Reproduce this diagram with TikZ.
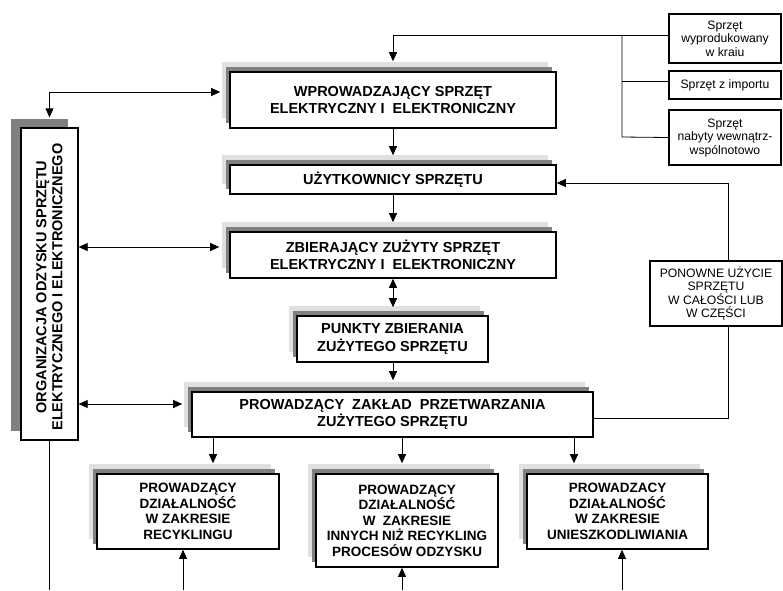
\documentclass[tikz,border=0pt]{standalone}
\usepackage{fontspec}
\setmainfont{Liberation Sans}
\usetikzlibrary{arrows.meta,shadows}
\begin{document}
\begin{tikzpicture}[x=1pt,y=-1pt,
  mainbox/.style={draw, line width=1.6pt, fill=white, align=center, inner sep=0pt,
    font=\fontsize{14.5}{17.5}\selectfont\bfseries,
    general shadow={fill=black!12, draw=none, shadow xshift=-8pt, shadow yshift=10pt},
    general shadow={fill=black!50, draw=none, shadow xshift=-4pt, shadow yshift=5pt}},
  lowbox/.style={mainbox, font=\fontsize{13.5}{15.5}\selectfont\bfseries},
  orgbox/.style={draw, line width=1.3pt, fill=white, inner sep=0pt,
    general shadow={fill=black!50, draw=none, shadow xshift=-10pt, shadow yshift=9pt}},
  srcbox/.style={draw, line width=1.2pt, fill=white, align=center, inner sep=0pt,
    font=\fontsize{12.2}{13.5}\selectfont},
  conn/.style={line width=0.8pt},
  arr/.style={conn, -{Triangle[length=9pt,width=8pt]}},
  arrb/.style={conn, {Triangle[length=9pt,width=8pt]}-{Triangle[length=9pt,width=8pt]}}
]
\useasboundingbox (0,0) rectangle (783,590);

% boxes
\node[mainbox, minimum width=326pt, minimum height=56pt] (wp) at (393,100)
  {WPROWADZAJĄCY SPRZĘT\\ELEKTRYCZNY I\ \ ELEKTRONICZNY};
\node[mainbox, minimum width=326pt, minimum height=29pt] (uz) at (393,179.5)
  {UŻYTKOWNICY SPRZĘTU};
\node[mainbox, minimum width=326pt, minimum height=46pt] (zb) at (393,255)
  {ZBIERAJĄCY ZUŻYTY SPRZĘT\\ELEKTRYCZNY I\ \ ELEKTRONICZNY};
\node[mainbox, minimum width=191pt, minimum height=46pt] (pk) at (392.5,339)
  {PUNKTY ZBIERANIA\\ZUŻYTEGO SPRZĘTU};
\node[mainbox, minimum width=401pt, minimum height=45pt] (pz) at (392.5,414.5)
  {PROWADZĄCY\ \ ZAKŁAD\ \ PRZETWARZANIA\\ZUŻYTEGO SPRZĘTU};
\node[lowbox, minimum width=182pt, minimum height=75pt] (rec) at (188,511.5)
  {PROWADZĄCY\\DZIAŁALNOŚĆ\\W ZAKRESIE\\RECYKLINGU};
\node[lowbox, minimum width=182pt, minimum height=93pt] (inn) at (407,520.5)
  {PROWADZĄCY\\DZIAŁALNOŚĆ\\W\ \ ZAKRESIE\\INNYCH NIŻ RECYKLING\\PROCESÓW ODZYSKU};
\node[lowbox, minimum width=181pt, minimum height=75pt] (uni) at (617.5,511.5)
  {PROWADZACY\\DZIAŁALNOŚĆ\\W ZAKRESIE\\UNIESZKODLIWIANIA};
\node[orgbox, minimum width=57pt, minimum height=312pt] (org) at (49.5,284) {};
\node[rotate=90, align=center, font=\fontsize{14.5}{16}\selectfont\bfseries] (orgt) at ([yshift=-3pt]org.center)
  {ORGANIZACJA ODZYSKU SPRZĘTU\\ELEKTRYCZNEGO I ELEKTRONICZNEGO};
\node[srcbox, minimum width=112pt, minimum height=49pt] (s1) at (725,38.5)
  {Sprzęt\\wyprodukowany\\w kraiu};
\node[srcbox, minimum width=112pt, minimum height=28pt] (s2) at (725,85)
  {Sprzęt z importu};
\node[srcbox, minimum width=112pt, minimum height=55pt] (s3) at (725,137.5)
  {Sprzęt\\nabyty wewnątrz-\\wspólnotowo};
\node[srcbox, minimum width=132pt, minimum height=65pt] (pon) at (716,293.5)
  {PONOWNE UŻYCIE\\SPRZĘTU\\W CAŁOŚCI LUB\\W CZĘŚCI};

% sources to wp
\coordinate (bt) at (622,35);
\coordinate (bb) at (622,137);
\draw[arr, shorten >=10pt] (s1.west |- 0,35) -- (393,35) -- (wp.north);
\draw[conn] (bt) -- (bb) -- (s3.west);
\draw[conn] (622,81) -- (s2.west |- 0,81);

% central chain
\draw[arr, shorten >=9pt] (wp.south) -- (uz.north);
\draw[arr, shorten >=9pt] (uz.south) -- (zb.north);
\draw[arrb, shorten >=8pt] (zb.south) -- (pk.north -| zb.south);
\draw[arr, shorten >=11pt] (pk.south -| zb.south) -- (pz.north -| zb.south);

% organisation links
\coordinate (oc) at (org.north |- 0,92);
\draw[arrb, shorten <=9pt, shorten >=10pt] (wp.west |- 0,92) -- (oc) -- (org.north);
\draw[arrb, shorten >=10pt] (org.east |- 0,247) -- (zb.west |- 0,247);
\draw[arrb, shorten >=9pt] (org.east |- 0,404) -- (pz.west |- 0,404);
\draw[conn] (org.south) -- (org.south |- 0,590);

% reuse loop
\draw[conn] (pz.east |- 0,418) -- (728,418) -- (pon.south -| 728,0);
\draw[arr] (pon.north -| 728,0) -- (728,183) -- (uz.east |- 0,183);

% to lower boxes
\draw[arr, shorten >=10pt] (pz.south -| 213,0) -- (rec.north -| 213,0);
\draw[arr, shorten >=10pt] (pz.south -| 402,0) -- (inn.north -| 402,0);
\draw[arr, shorten >=10pt] (pz.south -| 574,0) -- (uni.north -| 574,0);
\draw[arr] (183,590) -- (rec.south -| 183,0);
\draw[arr] (402,590) -- (inn.south -| 402,0);
\draw[arr] (622,590) -- (uni.south -| 622,0);
\end{tikzpicture}
\end{document}
